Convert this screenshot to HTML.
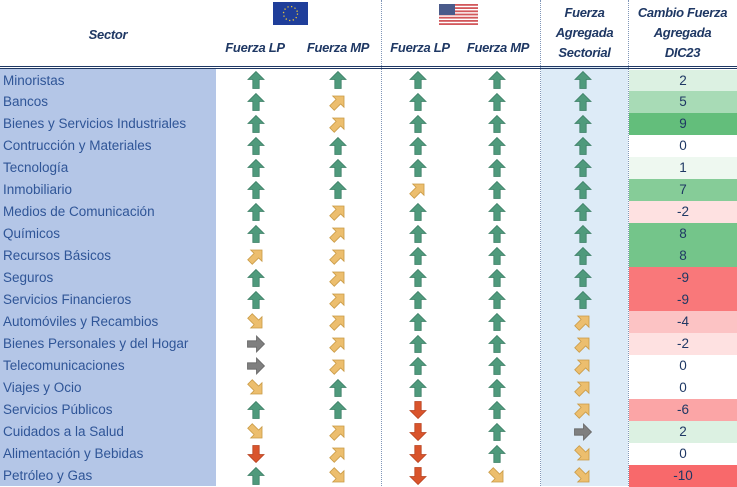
<!DOCTYPE html>
<html><head><meta charset="utf-8"><style>
body{margin:0;width:737px;height:486px;overflow:hidden;background:#fff;font-family:"Liberation Sans",sans-serif;}
#t{position:relative;width:737px;height:486px;}
.h{position:absolute;color:#1f3864;font-weight:bold;font-style:italic;font-size:13px;text-align:center;line-height:20px;letter-spacing:-0.3px}
.cell{position:absolute;}
</style></head><body>
<div id="t">
<div class="cell" style="left:0;top:69px;width:216px;height:417px;background:#b4c6e7"></div>
<div class="cell" style="left:541px;top:0;width:87px;height:486px;background:#ddebf7"></div>
<div class="cell" style="left:541px;top:0;width:87px;height:67px;background:#fff"></div>
<div class="cell" style="left:381px;top:0;width:0;height:486px;border-left:1px dotted #8096b8"></div>
<div class="cell" style="left:540px;top:0;width:0;height:486px;border-left:1px dotted #8096b8"></div>
<div class="cell" style="left:628px;top:0;width:0;height:486px;border-left:1px dotted #8096b8"></div>
<div class="cell" style="left:0;top:66px;width:737px;height:1px;border-top:1px solid #1f3864;border-bottom:1px solid #1f3864"></div>
<div class="h" style="left:0;top:25px;width:216px">Sector</div>
<svg class="cell" style="left:273px;top:2px" width="35" height="23"><rect width="35" height="23" fill="#1f3e9a"/><circle cx="17.5" cy="11.5" r="7" fill="none" stroke="#e8c43a" stroke-width="1.3" stroke-dasharray="1.3 2.4"/></svg>
<svg class="cell" style="left:439px;top:4px" width="39" height="21"><rect width="39" height="21" fill="#fff"/><g fill="#d2585b"><rect y="0" width="39" height="1.8"/><rect y="3.2" width="39" height="1.8"/><rect y="6.4" width="39" height="1.8"/><rect y="9.6" width="39" height="1.8"/><rect y="12.8" width="39" height="1.8"/><rect y="16" width="39" height="1.8"/><rect y="19.2" width="39" height="1.8"/></g><rect width="16" height="11" fill="#4a5a8a"/></svg>
<div class="h" style="left:216px;top:38px;width:78px">Fuerza LP</div>
<div class="h" style="left:294px;top:38px;width:88px">Fuerza MP</div>
<div class="h" style="left:381px;top:38px;width:78px">Fuerza LP</div>
<div class="h" style="left:456px;top:38px;width:84px">Fuerza MP</div>
<div class="h" style="left:541px;top:3px;width:87px">Fuerza<br>Agregada<br>Sectorial</div>
<div class="h" style="left:628px;top:3px;width:109px">Cambio Fuerza<br>Agregada<br>DIC23</div>
</div>
<script>
const sectors=["Minoristas","Bancos","Bienes y Servicios Industriales","Contrucción y Materiales","Tecnología","Inmobiliario","Medios de Comunicación","Químicos","Recursos Básicos","Seguros","Servicios Financieros","Automóviles y Recambios","Bienes Personales y del Hogar","Telecomunicaciones","Viajes y Ocio","Servicios Públicos","Cuidados a la Salud","Alimentación y Bebidas","Petróleo y Gas"];
const euLP=["U","U","U","U","U","U","U","U","NE","U","U","SE","R","R","SE","U","SE","D","U"];
const euMP=["U","NE","NE","U","U","U","NE","NE","NE","NE","NE","NE","NE","NE","U","U","NE","NE","SE"];
const usLP=["U","U","U","U","U","NE","U","U","U","U","U","U","U","U","U","D","D","D","D"];
const usMP=["U","U","U","U","U","U","U","U","U","U","U","U","U","U","U","U","U","U","SE"];
const agg=["U","U","U","U","U","U","U","U","U","U","U","NE","NE","NE","NE","NE","R","SE","SE"];
const change=[2,5,9,0,1,7,-2,8,8,-9,-9,-4,-2,0,0,-6,2,0,-10];
const t=document.getElementById('t');
const top0=69.5,rh=21.95;
const cols=[[euLP,256,'eu-lp'],[euMP,338,'eu-mp'],[usLP,418,'us-lp'],[usMP,497,'us-mp'],[agg,583,'aggregate']];
const rot={U:0,NE:45,R:90,SE:135,D:180};
const fill={U:['#4f9a7c','#3d7f66'],NE:['#ecbe6e','#c99a45'],SE:['#ecbe6e','#c99a45'],R:['#7f7f7f','#666'],D:['#d9542c','#b84320']};
function col(v){
  if(v>0){const f=Math.min(v/9,1);const a=[255,255,255],b=[99,190,123];return `rgb(${a.map((x,i)=>Math.round(x+(b[i]-x)*f)).join(',')})`;}
  if(v<0){const f=-v/10;const a=[255,255,255],b=[248,105,107];return `rgb(${a.map((x,i)=>Math.round(x+(b[i]-x)*f)).join(',')})`;}
  return '#fff';
}
sectors.forEach((s,i)=>{
  const y=top0+i*rh;
  const d=document.createElement('div');
  d.className='cell';
  d.style.cssText=`left:3px;top:${y}px;height:${rh}px;line-height:${rh}px;font-size:13.5px;color:#2f5597;white-space:nowrap`;
  d.textContent=s;
  
  
  t.appendChild(d);
  cols.forEach(([arr,cx,nm])=>{
    const k=arr[i];
    const sv=document.createElementNS('http://www.w3.org/2000/svg','svg');
    sv.setAttribute('width','20');sv.setAttribute('height','20');
    sv.setAttribute('class','cell');
    sv.style.left=(cx-10)+'px';sv.style.top=(y+rh/2-10)+'px';
    
    
    sv.innerHTML=`<g transform="rotate(${rot[k]} 10 10)"><path d="M10 1.5 L18 9.5 L13.2 9.5 L13.2 18.5 L6.8 18.5 L6.8 9.5 L2 9.5 Z" fill="${fill[k][0]}" stroke="${fill[k][1]}" stroke-width="0.8"/></g>`;
    t.appendChild(sv);
  });
  const c=document.createElement('div');
  c.className='cell';
  c.style.cssText=`left:629px;top:${y}px;width:108px;height:${rh}px;line-height:${rh}px;text-align:center;font-size:13.5px;color:#1f3864;background:${col(change[i])}`;
  c.textContent=change[i];
  
  
  t.appendChild(c);
});
</script>
</body></html>
